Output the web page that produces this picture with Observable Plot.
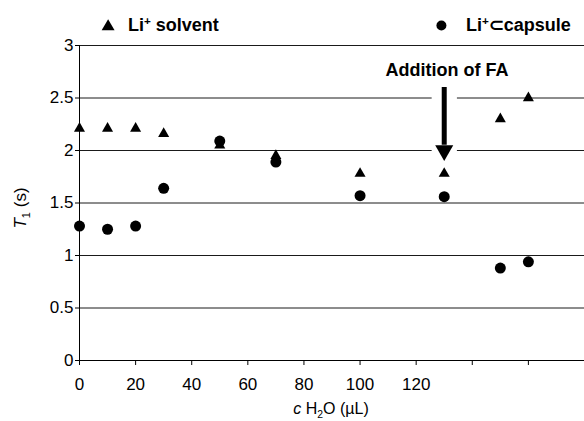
<!DOCTYPE html>
<html><head><meta charset="utf-8">
<script src="https://cdn.jsdelivr.net/npm/d3@7"></script>
<script src="https://cdn.jsdelivr.net/npm/@observablehq/plot@0.6"></script>
<style>
body{margin:0;background:#fff;}
#chart svg{font-family: Arial, "Liberation Sans", sans-serif;}
</style>
</head><body><div id="chart"></div>
<script>
// ---- data ----
const water = [0, 10, 20, 30, 50, 70, 100, 130, 150, 160];
const solvent = [2.21, 2.21, 2.21, 2.16, 2.05, 1.95, 1.78, 1.78, 2.30, 2.50];
const capsule = [1.28, 1.25, 1.28, 1.64, 2.09, 1.89, 1.57, 1.56, 0.88, 0.94];
const xTicks = [0, 20, 40, 60, 80, 100, 120, 140, 160];
const xTickLabels = ["0", "20", "40", "60", "80", "100", "120", "", ""];
const yTicks = [0, 0.5, 1, 1.5, 2, 2.5, 3];
const yTickLabels = ["0", "0.5", "1", "1.5", "2", "2.5", "3"];
const seriesNames = ["solvent", "capsule"];
const annotation = ["Addition of FA"];
const arrowAt = [130];

const rows = water.map((w, i) => ({w, s: solvent[i], c: capsule[i]}));

const plot = Plot.plot({
  width: 584, height: 421,
  marginLeft: 79, marginRight: 0, marginTop: 45, marginBottom: 61,
  x: {domain: [0, 180]},
  y: {domain: [0, 3]},
  style: {fontFamily: "Arial, 'Liberation Sans', sans-serif", fontSize: "17px", color: "#000", background: "#fff", overflow: "visible"},
  marks: [
    Plot.ruleY(yTicks.filter(d => d > 0), {stroke: "#1a1a1a", strokeWidth: 1}),
    Plot.rect(arrowAt, {x1: d => d - 4.3, x2: d => d + 4.7, y1: 1.95, y2: 2.56, fill: "#fff"}),
    Plot.ruleX([0], {y1: 0, y2: 3, stroke: "#000"}),
    Plot.ruleY([0], {stroke: "#000"}),
    Plot.axisY({ticks: yTicks, tickFormat: d => yTickLabels[yTicks.indexOf(d)], tickSize: 4, tickPadding: 2, label: null, fontSize: 17}),
    Plot.axisX({ticks: xTicks, tickFormat: d => xTickLabels[xTicks.indexOf(d)], tickSize: 5, tickPadding: 12, label: null, fontSize: 17}),
    Plot.ruleX(arrowAt, {y1: 2.05, y2: 2.6, strokeWidth: 5, stroke: "#000"}),
    Plot.dot(arrowAt, {x: d => d, y: 2.0, symbol: "triangle", r: 6.7, rotate: 180, fill: "#000", stroke: null}),
    Plot.dot(rows, {x: "w", y: "s", symbol: "triangle", r: 4.1, fill: "#000", stroke: null}),
    Plot.dot(rows, {x: "w", y: "c", r: 5.5, fill: "#000", stroke: null}),
    Plot.text(annotation, {x: 131, y: 2.76, text: d => d, fontWeight: "bold", fontSize: 18, fill: "#000"}),
    // legend symbols
    Plot.dot([seriesNames[0]], {x: 10.2, y: 3.18, symbol: "triangle", r: 4.8, fill: "#000", stroke: null}),
    Plot.dot([seriesNames[1]], {x: 129, y: 3.19, r: 5, fill: "#000", stroke: null})
  ]
});
document.getElementById("chart").appendChild(plot);

const svg = d3.select(plot);
const font = "Arial, 'Liberation Sans', sans-serif";
function addLabel(x, y, parts, opts = {}) {
  const size = opts.size || 17;
  const t = svg.append("text").attr("x", x).attr("y", y)
    .attr("font-family", font).attr("font-size", size)
    .attr("font-weight", opts.weight || "normal").attr("fill", "#000")
    .attr("text-anchor", opts.anchor || "start");
  if (opts.rotate) t.attr("transform", `rotate(${opts.rotate},${x},${y})`);
  for (const p of parts) {
    const s = t.append("tspan").text(p.t);
    if (p.italic) s.attr("font-style", "italic");
    if (p.sup) s.attr("font-size", size * 0.65).attr("dy", -size * 0.35);
    if (p.sub) s.attr("font-size", size * 0.65).attr("dy", size * 0.25);
    if (p.reset) s.attr("dy", p.reset * size);
  }
  return t;
}
// legend texts
addLabel(128, 31, [{t: "Li"}, {t: "+", sup: true}, {t: " solvent", reset: 0.35}], {weight: "bold", size: 18});
addLabel(466, 31, [{t: "Li"}, {t: "+", sup: true}, {t: "⊂capsule", reset: 0.35}], {weight: "bold", size: 18});
// axis titles
addLabel(331, 414, [{t: "c", italic: true}, {t: " H"}, {t: "2", sub: true}, {t: "O (µL)", reset: -0.25}], {anchor: "middle", size: 16});
addLabel(26, 208, [{t: "T", italic: true}, {t: "1", sub: true}, {t: " (s)", reset: -0.25}], {anchor: "middle", size: 17, rotate: -90});
</script>
</body></html>
